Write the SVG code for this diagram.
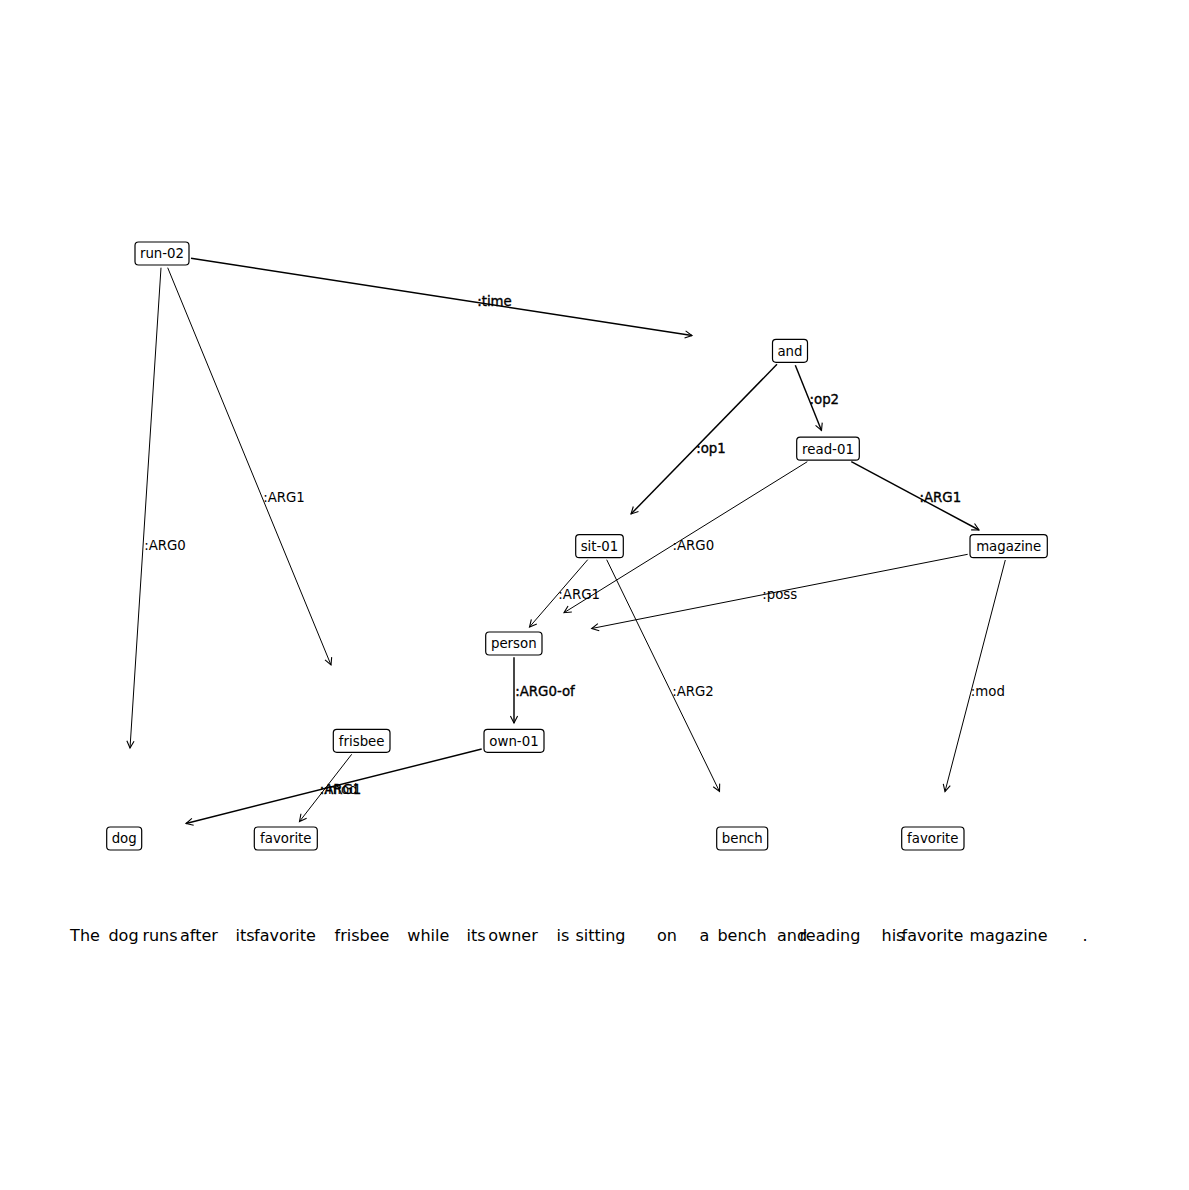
<svg xmlns="http://www.w3.org/2000/svg" width="1189" height="1190" viewBox="0 0 1189 1190">
<style>
.bg{fill:#ffffff}
.node rect{fill:#ffffff;stroke:#000000;stroke-width:1.2}
.node text{font-family:"DejaVu Sans","Liberation Sans",sans-serif;font-size:13.33px;fill:#000000;text-anchor:middle}
.edge{stroke:#000000;stroke-width:1;fill:none}
.edge.dbl{stroke-width:1.45}
.lbl{font-family:"DejaVu Sans","Liberation Sans",sans-serif;font-size:13.33px;fill:#000000;text-anchor:middle}
.lbl.dbl{stroke:#000000;stroke-width:0.35}
.word{font-family:"DejaVu Sans","Liberation Sans",sans-serif;font-size:16px;fill:#000000;text-anchor:middle}
</style>
<defs>
<marker id="arr" markerUnits="userSpaceOnUse" markerWidth="14" markerHeight="14" viewBox="-10 -7 14 14" refX="0" refY="0" orient="auto">
<path d="M-7,-3.6 L0,0 L-7,3.6" fill="none" stroke="#000000" stroke-width="1.1"/>
</marker>
</defs>
<rect class="bg" x="0" y="0" width="1189" height="1190"/>

<g id="connectors">
<line class="edge" x1="161" y1="267.7" x2="130" y2="748" marker-end="url(#arr)"/>
<line class="edge" x1="167.7" y1="267.7" x2="331" y2="665" marker-end="url(#arr)"/>
<line class="edge dbl" x1="191" y1="258.3" x2="692" y2="335.5" marker-end="url(#arr)"/>
<line class="edge dbl" x1="777" y1="364.3" x2="631" y2="514" marker-end="url(#arr)"/>
<line class="edge dbl" x1="795.3" y1="365.3" x2="821.5" y2="430.5" marker-end="url(#arr)"/>
<line class="edge" x1="807.3" y1="461.7" x2="564" y2="612.7" marker-end="url(#arr)"/>
<line class="edge dbl" x1="851.3" y1="461.7" x2="979" y2="530" marker-end="url(#arr)"/>
<line class="edge" x1="587.7" y1="559.7" x2="529.5" y2="627" marker-end="url(#arr)"/>
<line class="edge" x1="606.7" y1="559.7" x2="719.5" y2="791.5" marker-end="url(#arr)"/>
<line class="edge" x1="967.7" y1="554.3" x2="591.7" y2="628.5" marker-end="url(#arr)"/>
<line class="edge" x1="1005.3" y1="560" x2="945" y2="791.5" marker-end="url(#arr)"/>
<line class="edge dbl" x1="514" y1="657.3" x2="514" y2="723" marker-end="url(#arr)"/>
<line class="edge dbl" x1="481.7" y1="749" x2="186" y2="823.5" marker-end="url(#arr)"/>
<line class="edge" x1="351.7" y1="754.3" x2="299.5" y2="821.5" marker-end="url(#arr)"/>

<text class="lbl" x="165" y="549.8">:ARG0</text>
<text class="lbl" x="284" y="501.8">:ARG1</text>
<text class="lbl dbl" x="494.5" y="305.8">:time</text>
<text class="lbl dbl" x="711" y="453">:op1</text>
<text class="lbl dbl" x="824.3" y="404">:op2</text>
<text class="lbl dbl" x="940.3" y="501.5">:ARG1</text>
<text class="lbl" x="693.3" y="549.8">:ARG0</text>
<text class="lbl" x="579.2" y="599">:ARG1</text>
<text class="lbl" x="779.7" y="599">:poss</text>
<text class="lbl dbl" x="545" y="695.8">:ARG0-of</text>
<text class="lbl" x="693" y="695.8">:ARG2</text>
<text class="lbl" x="987.8" y="695.8">:mod</text>
<text class="lbl dbl" x="340.5" y="793.8">:ARG1</text>
<text class="lbl" x="340.5" y="793.8">:mod</text>
</g>

<g id="node-run-02" class="node"><rect x="135" y="242" width="54" height="23" rx="3.5"/><text x="162" y="258.3">run-02</text></g>
<g id="node-and" class="node"><rect x="772.5" y="339.3" width="35" height="23" rx="3.5"/><text x="790" y="355.6">and</text></g>
<g id="node-read-01" class="node"><rect x="796.7" y="437.2" width="62.6" height="23" rx="3.5"/><text x="828" y="453.5">read-01</text></g>
<g id="node-sit-01" class="node"><rect x="575.7" y="534.7" width="47.6" height="23" rx="3.5"/><text x="599.5" y="551">sit-01</text></g>
<g id="node-magazine" class="node"><rect x="970" y="534.7" width="77.3" height="23" rx="3.5"/><text x="1008.7" y="551">magazine</text></g>
<g id="node-person" class="node"><rect x="485.7" y="632" width="56.3" height="23" rx="3.5"/><text x="513.8" y="648.3">person</text></g>
<g id="node-frisbee" class="node"><rect x="333.3" y="729.3" width="56.7" height="23" rx="3.5"/><text x="361.7" y="745.6">frisbee</text></g>
<g id="node-own-01" class="node"><rect x="484" y="729.3" width="60" height="23" rx="3.5"/><text x="514" y="745.6">own-01</text></g>
<g id="node-dog" class="node"><rect x="106.7" y="827" width="35" height="23" rx="3.5"/><text x="124.2" y="843.3">dog</text></g>
<g id="node-favorite" class="node"><rect x="254.3" y="827" width="63" height="23" rx="3.5"/><text x="285.8" y="843.3">favorite</text></g>
<g id="node-bench" class="node"><rect x="716.7" y="827" width="51" height="23" rx="3.5"/><text x="742.2" y="843.3">bench</text></g>
<g id="node-favorite-2" class="node"><rect x="901.7" y="827" width="62.3" height="23" rx="3.5"/><text x="932.8" y="843.3">favorite</text></g>

<g id="sentence">
<text class="word" x="85" y="941">The</text>
<text class="word" x="123.5" y="941">dog</text>
<text class="word" x="160" y="941">runs</text>
<text class="word" x="199" y="941">after</text>
<text class="word" x="245" y="941">its</text>
<text class="word" x="285" y="941">favorite</text>
<text class="word" x="362" y="941">frisbee</text>
<text class="word" x="428.3" y="941">while</text>
<text class="word" x="476" y="941">its</text>
<text class="word" x="513" y="941">owner</text>
<text class="word" x="563" y="941">is</text>
<text class="word" x="600.5" y="941">sitting</text>
<text class="word" x="667" y="941">on</text>
<text class="word" x="704.5" y="941">a</text>
<text class="word" x="742" y="941">bench</text>
<text class="word" x="792" y="941">and</text>
<text class="word" x="830" y="941">reading</text>
<text class="word" x="893" y="941">his</text>
<text class="word" x="932.5" y="941">favorite</text>
<text class="word" x="1008.5" y="941">magazine</text>
<text class="word" x="1085" y="941">.</text>
</g>
</svg>
